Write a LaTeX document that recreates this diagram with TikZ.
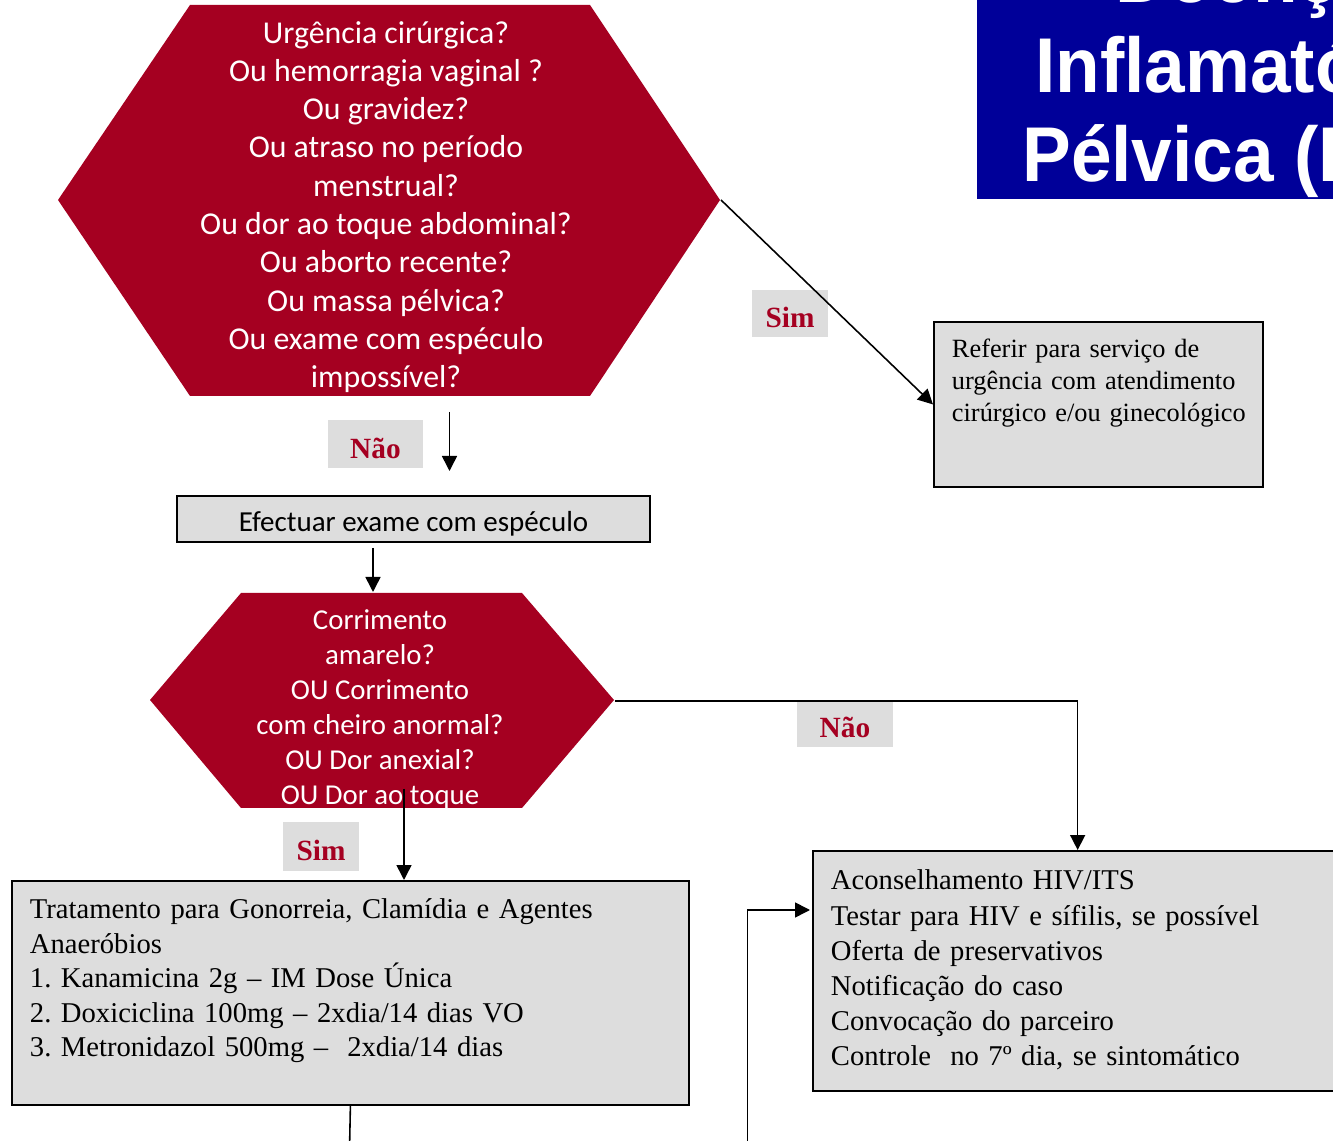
\documentclass[tikz,border=0pt]{standalone}
\usepackage{fontspec}
\setmainfont{Liberation Serif}
\newfontfamily\gillfont{Carlito}
\newfontfamily\titlefont{Liberation Sans}[FakeStretch=0.94]
\usetikzlibrary{arrows.meta}
\definecolor{hexred}{RGB}{165,0,33}
\definecolor{boxgray}{RGB}{221,221,221}
\definecolor{titleblue}{RGB}{0,0,153}
\frenchspacing

\begin{document}
\begin{tikzpicture}[x=0.02cm, y=-0.02cm,
  hexa/.style={fill=hexred},
  hextext/.style={text=white, align=center, inner sep=0pt},
  ttl/.style={anchor=base west, inner sep=0pt, text=white, font=\titlefont\bfseries\fontsize{44.2pt}{52pt}\selectfont},
  box/.style={draw, line width=1.1pt, fill=boxgray, inner xsep=0.36cm, inner ysep=0pt, align=left},
  lab/.style={fill=boxgray, text=hexred, inner sep=0pt, anchor=north, font=\bfseries\fontsize{16.7pt}{20pt}\selectfont},
  arr/.style={line width=0.9pt, -{Triangle[length=0.3cm, width=0.3cm]}},
  link/.style={line width=0.9pt}]
\useasboundingbox (0,0) rectangle (1333,1141);
\clip (0,0) rectangle (1333,1141);

% question hexagons
\fill[hexa] (190,5) -- (590,5) -- (720,200) -- (590,396) -- (190,396) -- (58,200) -- cycle;
\fill[hexa] (241,593) -- (522,593) -- (614,700) -- (522,808) -- (241,808) -- (150,700) -- cycle;
\node (q1)[hextext, font=\gillfont\fontsize{18.1pt}{21.8pt}\selectfont] at (386, 207) {Urgência cirúrgica?\\ Ou hemorragia vaginal ?\\ Ou gravidez?\\ Ou atraso no período\\ menstrual?\\ Ou dor ao toque abdominal?\\ Ou aborto recente?\\ Ou massa pélvica?\\ Ou exame com espéculo\\ impossível?};
\node (q2)[hextext, font=\gillfont\fontsize{16.4pt}{20pt}\selectfont] at (380, 709.5) {Corrimento\\ amarelo?\\ OU Corrimento\\ com cheiro anormal?\\ OU Dor anexial?\\ OU Dor ao toque};

% title
\fill[titleblue] (977,-10) rectangle (1345,199);
\node (title1)[ttl] at (1115, 3) {Doença};
\node (title2)[ttl] at (1035, 92.5) {Inflamatória};
\node (title3)[ttl] at (1022, 182) {Pélvica (DIP)};

% boxes
\node (ref)[box, anchor=north west, text width=5.86cm, text height=0.72cm, text depth=2.58cm, font=\fontsize{15pt}{18.1pt}\selectfont] at (933, 321) {Referir para serviço de\\ urgência com atendimento\\ cirúrgico~e/ou~ginecológico};
\node (exam)[box, align=center, inner xsep=0pt, minimum width=9.46cm, text height=0.72cm, text depth=0.2cm, font=\gillfont\fontsize{16.5pt}{20pt}\selectfont] at (413.5, 519) {Efectuar exame com espéculo};
\node (treat)[box, anchor=north west, text width=12.82cm, text height=0.75cm, text depth=3.73cm, font=\fontsize{16.3pt}{19.7pt}\selectfont] at (11, 880) {Tratamento para Gonorreia, Clamídia e Agentes\\ Anaeróbios\\ 1. Kanamicina 2g – IM Dose Única\\ 2. Doxiciclina 100mg – 2xdia/14 dias VO\\ 3. Metronidazol 500mg –\ \ 2xdia/14 dias};
\node (hiv)[box, anchor=north west, text width=9.87cm, text height=0.78cm, text depth=4.02cm, font=\fontsize{16.3pt}{20pt}\selectfont] at (812, 850) {Aconselhamento HIV/ITS\\ Testar para HIV e sífilis, se possível\\ Oferta de preservativos\\ Notificação do caso\\ Convocação do parceiro\\ Controle\ \ no 7º dia, se sintomático};

% answer labels
\node (sim1)[lab, minimum width=1.53cm, text height=0.75cm, text depth=0.18cm] at (790, 290) {Sim};
\node (nao1)[lab, minimum width=1.89cm, text height=0.78cm, text depth=0.18cm] at (375.5, 419.3) {Não};
\node (nao2)[lab, minimum width=1.91cm, text height=0.76cm, text depth=0.19cm] at (845, 699.3) {Não};
\node (sim2)[lab, minimum width=1.53cm, text height=0.77cm, text depth=0.2cm] at (321, 821.7) {Sim};

\coordinate (q1r) at (721, 200);
\coordinate (q1s) at (449.5, 412);
\coordinate (q1n) at (449.5, 471);
\coordinate (examout) at (373, 548);
\coordinate (q2n) at (373, 592);
\coordinate (q2r) at (615, 701);
\coordinate (q2s) at (404, 789);
\coordinate (treatout) at (349.5, 1150);
\coordinate (fbstart) at (747.5, 1150);
\coordinate (fbend) at (810, 910);

\draw[arr] (q1r) -- (ref.west);
\draw[arr] (q1s) -- (q1n);
\draw[arr] (examout) -- (q2n);
\draw[arr] (q2r) -| (hiv.north);
\draw[arr] (q2s) -- (q2s |- treat.north);
\draw[link] (treat.south) -- (treatout);
\draw[arr] (fbstart) |- (fbend);
\end{tikzpicture}
\end{document}
